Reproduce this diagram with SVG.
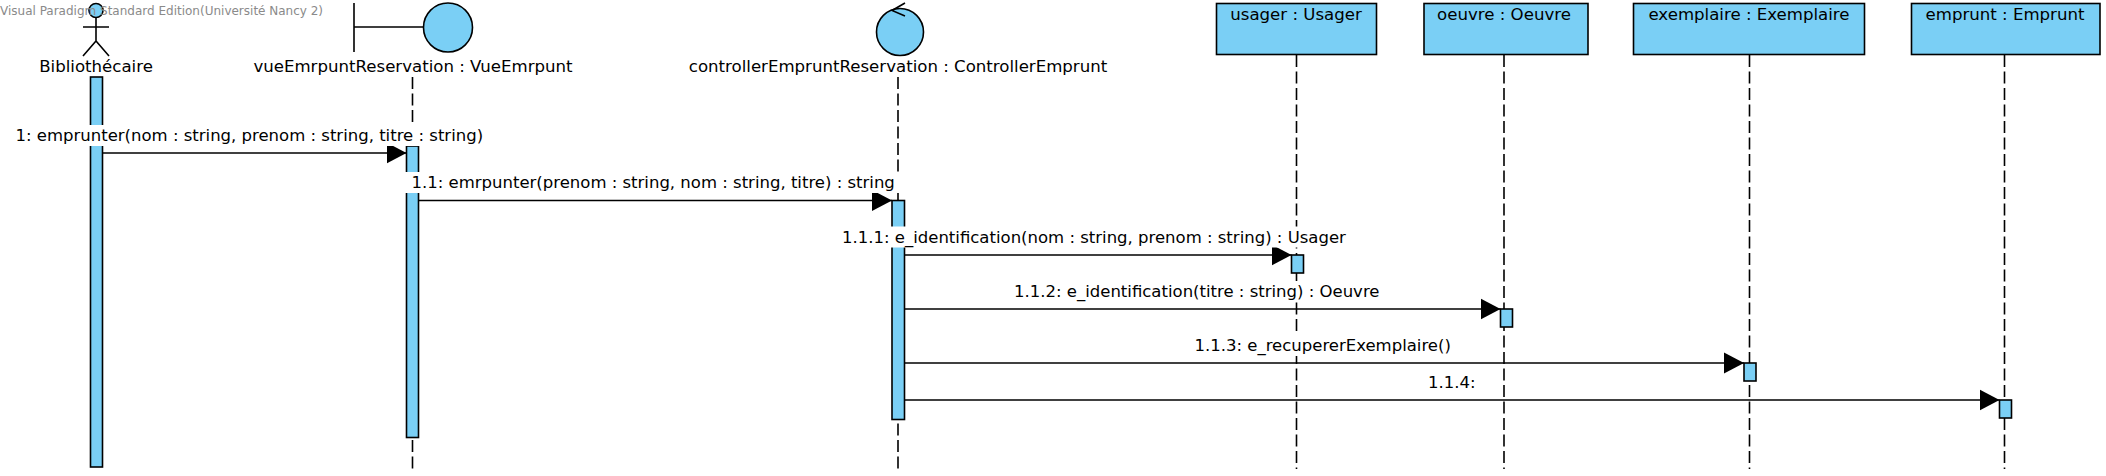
<svg xmlns="http://www.w3.org/2000/svg" width="2106" height="476" viewBox="0 0 2106 476">
<style>
text{font-family:"DejaVu Sans",sans-serif;font-size:16.6px;fill:#000}
.msg{font-size:16.5px}
.s{fill:#7ACFF5;stroke:#000;stroke-width:1.6}
.n{fill:none;stroke:#000;stroke-width:1.6}
.life{fill:none;stroke:#000;stroke-width:1.6;stroke-dasharray:12 4.5}
.m{fill:none;stroke:#000;stroke-width:1.6;marker-end:url(#ah)}
.bg{fill:#fff;stroke:none}
.mid{text-anchor:middle}
.wm{font-size:12px;fill:#8a8a8a}
</style>
<defs><marker id="ah" markerUnits="userSpaceOnUse" markerWidth="22" markerHeight="24" refX="20" refY="11" orient="auto"><path d="M0 .500L20 11L0 21.500Z" fill="#000"/></marker></defs>
<rect width="2106" height="476" fill="#fff"/>
<g id="actor">
<circle class="s" cx="96" cy="10.500" r="7"/>
<path class="n" d="M96 17.500V41M83 27H109M83 56L96 41L109 56"/>
<text class="mid" x="96" y="72">Bibliothécaire</text>
<rect class="s" x="90.500" y="77" width="12" height="390"/>
</g>
<g id="vue">
<path class="life" d="M412.500 77V469"/>
<path class="n" d="M354 3V52M354 27H424"/>
<circle class="s" cx="448" cy="27.500" r="24.500"/>
<text class="mid" x="413" y="72">vueEmrpuntReservation : VueEmrpunt</text>
<rect class="s" x="406.500" y="146" width="12" height="291.500"/>
</g>
<g id="controller">
<path class="life" d="M898 77V469"/>
<circle class="s" cx="900" cy="32" r="23.500"/>
<path class="n" d="M905 3L892 10.500L905 16"/>
<text class="mid" x="898" y="72">controllerEmpruntReservation : ControllerEmprunt</text>
<rect class="s" x="892" y="200.500" width="12.500" height="219"/>
</g>
<g id="usager">
<path class="life" d="M1296.500 55V469"/>
<rect class="s" x="1216.500" y="3.500" width="160" height="51"/>
<text class="mid" x="1296" y="20">usager : Usager</text>
<rect class="s" x="1291.500" y="255" width="12" height="18"/>
</g>
<g id="oeuvre">
<path class="life" d="M1504 55V469"/>
<rect class="s" x="1424" y="3.500" width="164" height="51"/>
<text class="mid" x="1504" y="20">oeuvre : Oeuvre</text>
<rect class="s" x="1500.500" y="309" width="12" height="18"/>
</g>
<g id="exemplaire">
<path class="life" d="M1749.500 55V469"/>
<rect class="s" x="1633.500" y="3.500" width="231" height="51"/>
<text class="mid" x="1749" y="20">exemplaire : Exemplaire</text>
<rect class="s" x="1744" y="363" width="12" height="18"/>
</g>
<g id="emprunt">
<path class="life" d="M2004.500 55V469"/>
<rect class="s" x="1911.500" y="3.500" width="188.500" height="51"/>
<text class="mid" x="2005" y="20">emprunt : Emprunt</text>
<rect class="s" x="1999.500" y="400" width="12" height="18"/>
</g>
<g id="connectors">
<path class="m" d="M103 153H406.500"/>
<path class="m" d="M418.500 200.500H892"/>
<path class="m" d="M904.500 255H1291.500"/>
<path class="m" d="M904.500 309H1500.500"/>
<path class="m" d="M904.500 363H1744"/>
<path class="m" d="M904.500 400H1999.500"/>
<rect class="bg" x="14" y="125" width="472" height="21"/>
<rect class="bg" x="404" y="172" width="498" height="21"/>
<rect class="bg" x="838" y="226.500" width="512" height="21"/>
<rect class="bg" x="1012" y="281" width="372" height="21"/>
<rect class="bg" x="1192" y="335" width="264" height="21"/>
<rect class="bg" x="1425" y="372" width="52" height="21"/>
<text class="msg" x="15.500" y="140.500">1: emprunter(nom : string, prenom : string, titre : string)</text>
<text class="msg" x="411.500" y="187.500">1.1: emrpunter(prenom : string, nom : string, titre) : string</text>
<text class="msg" x="842" y="243">1.1.1: e_identification(nom : string, prenom : string) : Usager</text>
<text class="msg" x="1014" y="296.500">1.1.2: e_identification(titre : string) : Oeuvre</text>
<text class="msg" x="1194.500" y="351">1.1.3: e_recupererExemplaire()</text>
<text class="msg" x="1428" y="388">1.1.4:</text>
</g>
<text class="wm" x="0" y="15">Visual Paradigm Standard Edition(Université Nancy 2)</text>
</svg>
